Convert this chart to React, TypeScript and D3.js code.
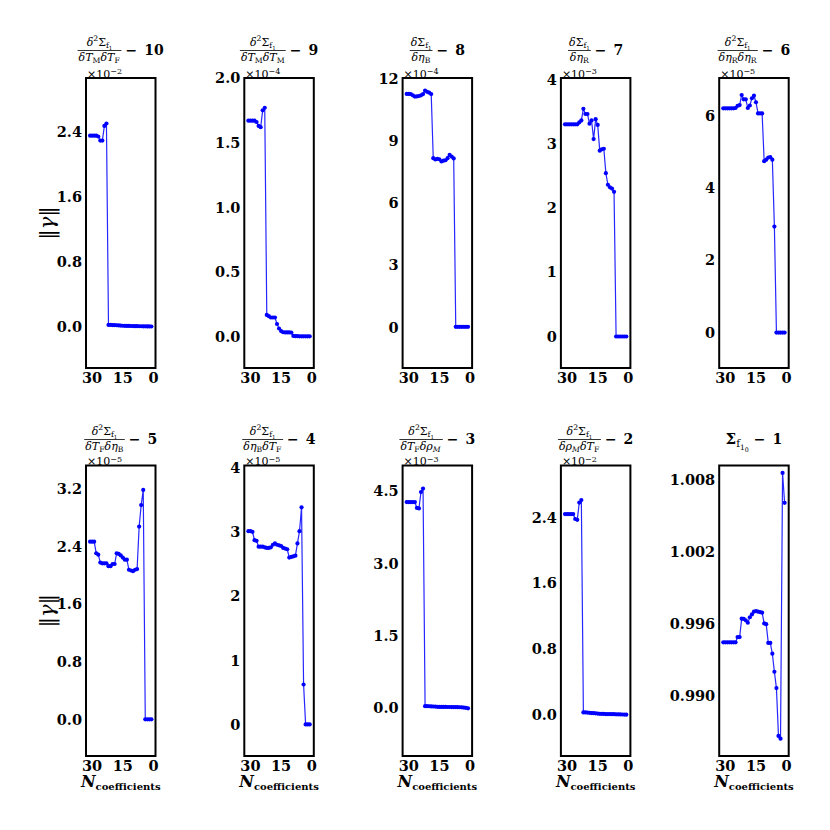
import React, { useEffect, useRef } from 'react';
import * as d3 from 'd3';

// ---------- data ----------
const nCoefficients = [31, 30, 29, 28, 27, 26, 25, 24, 23, 22, 21, 20, 19, 18, 17, 16, 15, 14, 13, 12, 11, 10, 9, 8, 7, 6, 5, 4, 3, 2, 1];
const xTicks = [30, 15, 0];

// d2Sigma / dTM dTF - 10   (x1e-2)
const gamma10 = [2.35, 2.35, 2.35, 2.35, 2.34, 2.29, 2.29, 2.47, 2.50, 0.020, 0.020, 0.019, 0.018, 0.016, 0.014, 0.012, 0.010, 0.009, 0.008, 0.008, 0.007, 0.006, 0.005, 0.005, 0.004, 0.004, 0.003, 0.003, 0.002, 0.002, 0.001];
// d2Sigma / dTM dTM - 9   (x1e-4)
const gamma9 = [1.67, 1.67, 1.67, 1.67, 1.66, 1.63, 1.62, 1.75, 1.77, 0.17, 0.16, 0.15, 0.15, 0.15, 0.10, 0.065, 0.045, 0.036, 0.035, 0.035, 0.035, 0.034, 0.008, 0.006, 0.006, 0.005, 0.005, 0.005, 0.005, 0.005, 0.005];
// dSigma / d etaB - 8   (x1e-4)
const gamma8 = [11.29, 11.29, 11.28, 11.22, 11.16, 11.17, 11.19, 11.22, 11.28, 11.45, 11.39, 11.35, 11.28, 8.18, 8.12, 8.15, 8.13, 8.02, 8.06, 8.08, 8.18, 8.34, 8.26, 8.17, 0.02, 0.02, 0.02, 0.02, 0.02, 0.02, 0.02];
// dSigma / d etaR - 7   (x1e-3)
const gamma7 = [3.30, 3.30, 3.30, 3.30, 3.30, 3.30, 3.30, 3.33, 3.36, 3.54, 3.46, 3.46, 3.31, 3.36, 3.07, 3.38, 3.29, 2.89, 2.91, 2.92, 2.54, 2.36, 2.32, 2.30, 2.25, 0.0, 0.0, 0.0, 0.0, 0.0, 0.0];
// d2Sigma / d etaR d etaR - 6   (x1e-5)
const gamma6 = [6.20, 6.20, 6.20, 6.20, 6.20, 6.20, 6.21, 6.27, 6.29, 6.57, 6.45, 6.45, 6.21, 6.28, 6.48, 6.55, 6.37, 6.06, 6.06, 6.06, 4.74, 4.78, 4.84, 4.85, 4.78, 2.93, 0.0, 0.0, 0.0, 0.0, 0.0];
// d2Sigma / dTF d etaB - 5   (x1e-5)
const gamma5 = [2.47, 2.47, 2.47, 2.31, 2.29, 2.18, 2.17, 2.17, 2.17, 2.13, 2.13, 2.16, 2.16, 2.31, 2.30, 2.28, 2.25, 2.22, 2.22, 2.08, 2.07, 2.06, 2.08, 2.09, 2.68, 2.98, 3.19, 0.0, 0.0, 0.0, 0.0];
// d2Sigma / d etaB dTF - 4   (x1e-5)
const gamma4 = [3.01, 3.01, 3.00, 2.87, 2.86, 2.77, 2.77, 2.77, 2.76, 2.75, 2.75, 2.76, 2.80, 2.82, 2.80, 2.79, 2.78, 2.75, 2.74, 2.73, 2.60, 2.61, 2.62, 2.63, 2.82, 3.01, 3.38, 0.63, 0.01, 0.01, 0.01];
// d2Sigma / dTF d rhoM - 3   (x1e-3)
const gamma3 = [4.27, 4.27, 4.27, 4.27, 4.27, 4.15, 4.14, 4.48, 4.55, 0.035, 0.035, 0.033, 0.030, 0.028, 0.025, 0.020, 0.018, 0.018, 0.018, 0.018, 0.017, 0.017, 0.016, 0.016, 0.015, 0.014, 0.012, 0.010, 0.005, 0.0, -0.01];
// d2Sigma / d rhoM dTF - 2   (x1e-2)
const gamma2 = [2.44, 2.44, 2.44, 2.44, 2.44, 2.38, 2.37, 2.58, 2.61, 0.030, 0.030, 0.028, 0.025, 0.022, 0.020, 0.018, 0.015, 0.013, 0.012, 0.011, 0.010, 0.010, 0.009, 0.008, 0.008, 0.007, 0.006, 0.005, 0.004, 0.003, 0.002];
// Sigma_f1_0 - 1
const gamma1 = [0.99447, 0.99447, 0.99447, 0.99447, 0.99447, 0.99447, 0.99447, 0.99491, 0.99491, 0.99644, 0.99642, 0.9963, 0.9961, 0.99656, 0.99679, 0.99702, 0.99708, 0.99702, 0.99699, 0.99694, 0.99604, 0.99598, 0.99442, 0.99442, 0.99352, 0.99202, 0.99066, 0.98667, 0.98644, 1.00858, 1.00609];

const ticks10 = [0.0, 0.8, 1.6, 2.4];
const ticks9 = [0.0, 0.5, 1.0, 1.5, 2.0];
const ticks8 = [0, 3, 6, 9, 12];
const ticks7 = [0, 1, 2, 3, 4];
const ticks6 = [0, 2, 4, 6];
const ticks5 = [0.0, 0.8, 1.6, 2.4, 3.2];
const ticks4 = [0, 1, 2, 3, 4];
const ticks3 = [0.0, 1.5, 3.0, 4.5];
const ticks2 = [0.0, 0.8, 1.6, 2.4];
const ticks1 = [0.990, 0.996, 1.002, 1.008];

const exponents = [-2, -4, -4, -3, -5, -5, -5, -3, -2, null];
const suffixes = ['10', '9', '8', '7', '6', '5', '4', '3', '2', '1'];

// ---------- layout ----------
const FONT = "'DejaVu Serif', 'Liberation Serif', serif";
const BLUE = '#0000ff';
const COL_LEFT = 86;
const COL_STEP = 158.3;
const BOX_W = 69.5;
const ROWS = [
  { top: 78, bottom: 368, bar: 50.5, tickBase: 383 },
  { top: 465.5, bottom: 756, bar: 439.5, tickBase: 770.5 },
];

type Seg = [string, string, number];
const numD2: Seg[] = [['δ', 'i', 0], ['2', 'r', -1], ['Σ', 'r', 0], ['f', 'r', 1], ['1', 'r', 2]];
const numD1: Seg[] = [['δ', 'i', 0], ['Σ', 'r', 0], ['f', 'r', 1], ['1', 'r', 2]];
const dT = (s: string): Seg[] => [['δ', 'i', 0], ['T', 'i', 0], [s, 'r', 1]];
const dEta = (s: string): Seg[] => [['δ', 'i', 0], ['η', 'i', 0], [s, 'r', 1]];
const dRho: Seg[] = [['δ', 'i', 0], ['ρ', 'i', 0], ['M', 'i', 1]];

const titles: ({ num: Seg[]; den: Seg[] } | { single: Seg[] })[] = [
  { num: numD2, den: [...dT('M'), ...dT('F')] },
  { num: numD2, den: [...dT('M'), ...dT('M')] },
  { num: numD1, den: dEta('B') },
  { num: numD1, den: dEta('R') },
  { num: numD2, den: [...dEta('R'), ...dEta('R')] },
  { num: numD2, den: [...dT('F'), ...dEta('B')] },
  { num: numD2, den: [...dEta('B'), ...dT('F')] },
  { num: numD2, den: [...dT('F'), ...dRho] },
  { num: numD2, den: [...dRho, ...dT('F')] },
  { single: [['Σ', 'b', 0], ['f', 'r', 1], ['1', 'r', 2], ['0', 'r', 3]] },
];

const panels = [
  { values: gamma10, ticks: ticks10, fmt: '.1f', domain: [-0.51, 3.06] },
  { values: gamma9, ticks: ticks9, fmt: '.1f', domain: [-0.24, 2.0] },
  { values: gamma8, ticks: ticks8, fmt: 'd', domain: [-1.97, 12.06] },
  { values: gamma7, ticks: ticks7, fmt: 'd', domain: [-0.49, 4.02] },
  { values: gamma6, ticks: ticks6, fmt: 'd', domain: [-0.98, 7.04] },
  { values: gamma5, ticks: ticks5, fmt: '.1f', domain: [-0.51, 3.53] },
  { values: gamma4, ticks: ticks4, fmt: 'd', domain: [-0.48, 4.03] },
  { values: gamma3, ticks: ticks3, fmt: '.1f', domain: [-1.0, 5.03] },
  { values: gamma2, ticks: ticks2, fmt: '.1f', domain: [-0.5, 3.03] },
  { values: gamma1, ticks: ticks1, fmt: '.3f', domain: [0.985, 1.0092] },
];

function addRich(sel: any, segs: Seg[], base: number) {
  const text = sel.append('text').attr('font-family', FONT).attr('fill', '#000');
  let cur = 0;
  for (const [t, st, lv] of segs) {
    const size = lv === 0 ? base : lv === -1 ? base * 0.7 : lv === 1 ? base * 0.7 : lv === 2 ? base * 0.5 : base * 0.42;
    const off = lv === 0 ? 0 : lv === -1 ? -0.42 * base : lv === 1 ? 0.2 * base : lv === 2 ? 0.4 * base : 0.55 * base;
    text
      .append('tspan')
      .text(t)
      .attr('dy', off - cur)
      .attr('font-size', size)
      .attr('font-style', st.includes('i') ? 'italic' : 'normal')
      .attr('font-weight', st.includes('b') ? 'bold' : 'normal');
    cur = off;
  }
  return text;
}

export default function App() {
  const ref = useRef<SVGSVGElement | null>(null);

  useEffect(() => {
    const svg = d3.select(ref.current);
    svg.selectAll('*').remove();

    const x0 = d3.scaleLinear().domain([33, -1]).range([0, BOX_W]);

    panels.forEach((p, i) => {
      const row = ROWS[Math.floor(i / 5)];
      const left = COL_LEFT + (i % 5) * COL_STEP;
      const x = x0.copy().range([left, left + BOX_W]);
      const y = d3.scaleLinear().domain(p.domain).range([row.bottom, row.top]);
      const g = svg.append('g');

      // line + markers
      const line = d3
        .line<number>()
        .x((_, k) => x(nCoefficients[k]))
        .y((d) => y(d));
      g.append('path')
        .datum(p.values)
        .attr('d', line)
        .attr('fill', 'none')
        .attr('stroke', BLUE)
        .attr('stroke-opacity', 0.85)
        .attr('stroke-width', 1.2);
      g.selectAll('circle.pt')
        .data(p.values)
        .enter()
        .append('circle')
        .attr('cx', (_, k) => x(nCoefficients[k]))
        .attr('cy', (d) => y(d))
        .attr('r', 2.1)
        .attr('fill', BLUE);

      // frame
      g.append('rect')
        .attr('x', left)
        .attr('y', row.top)
        .attr('width', BOX_W)
        .attr('height', row.bottom - row.top)
        .attr('fill', 'none')
        .attr('stroke', '#000')
        .attr('stroke-width', 2);

      // y tick labels
      const fmt = d3.format(p.fmt);
      g.selectAll('text.yt')
        .data(p.ticks)
        .enter()
        .append('text')
        .attr('x', left - 4)
        .attr('y', (d) => y(d))
        .attr('dy', '0.36em')
        .attr('text-anchor', 'end')
        .attr('font-family', FONT)
        .attr('font-weight', 'bold')
        .attr('font-size', 14.5)
        .text((d) => fmt(d));

      // x tick labels
      g.selectAll('text.xt')
        .data(xTicks)
        .enter()
        .append('text')
        .attr('x', (d) => x(d))
        .attr('y', row.tickBase)
        .attr('text-anchor', 'middle')
        .attr('font-family', FONT)
        .attr('font-weight', 'bold')
        .attr('font-size', 14.5)
        .text((d) => String(d));

      // offset text
      const e = exponents[i];
      if (e !== null) {
        const ot = g
          .append('text')
          .attr('x', left + 1)
          .attr('y', row.top - 0.5)
          .attr('font-family', FONT)
          .attr('font-size', 11);
        ot.append('tspan').text('×10');
        ot.append('tspan').text('\u2212' + String(-e)).attr('font-size', 8).attr('dy', -3.5);
      }

      // title
      const cx = left + BOX_W / 2;
      const tg = g.append('g');
      const t = titles[i] as any;
      let total = 0;
      if (t.num) {
        const num = addRich(tg, t.num, 11).attr('y', -5);
        const den = addRich(tg, t.den, 11).attr('y', 10.3);
        const wn = (num.node() as SVGTextElement).getBBox().width;
        const wd = (den.node() as SVGTextElement).getBBox().width;
        const W = Math.max(wn, wd) + 2;
        num.attr('x', (W - wn) / 2);
        den.attr('x', (W - wd) / 2);
        tg.append('line')
          .attr('x1', 0)
          .attr('x2', W)
          .attr('y1', 0)
          .attr('y2', 0)
          .attr('stroke', '#000')
          .attr('stroke-width', 0.8);
        const suf = tg
          .append('text')
          .attr('x', W + 4)
          .attr('y', 4.5)
          .attr('font-family', FONT)
          .attr('font-size', 14)
          .attr('font-weight', 'bold')
          .text('\u2212\u2002' + suffixes[i]);
        total = W + 4 + (suf.node() as SVGTextElement).getBBox().width;
      } else {
        const s = addRich(tg, t.single, 15).attr('y', 4.5);
        const ws = (s.node() as SVGTextElement).getBBox().width;
        const suf = tg
          .append('text')
          .attr('x', ws + 5)
          .attr('y', 4.5)
          .attr('font-family', FONT)
          .attr('font-size', 14)
          .attr('font-weight', 'bold')
          .text('\u2212\u2002' + suffixes[i]);
        total = ws + 5 + (suf.node() as SVGTextElement).getBBox().width;
      }
      tg.attr('transform', `translate(${cx - total / 2},${row.bar})`);

      // x label on bottom row
      if (i >= 5) {
        const xl = g
          .append('text')
          .attr('x', cx)
          .attr('y', 787)
          .attr('text-anchor', 'middle')
          .attr('font-family', FONT)
          .attr('font-weight', 'bold');
        xl.append('tspan').text('N').attr('font-style', 'italic').attr('font-size', 16);
        xl.append('tspan').text('coefficients').attr('font-size', 10).attr('dy', 3);
      }
    });

    // y labels
    ROWS.forEach((row) => {
      const cy = (row.top + row.bottom) / 2;
      const yl = svg
        .append('text')
        .attr('transform', `translate(47,${cy}) rotate(-90)`)
        .attr('text-anchor', 'middle')
        .attr('dominant-baseline', 'central')
        .attr('font-family', FONT)
        .attr('font-size', 21);
      yl.append('tspan').text('‖');
      yl.append('tspan').text('γ').attr('font-style', 'italic');
      yl.append('tspan').text('‖');
    });
  }, []);

  return (
    <svg
      ref={ref}
      width={830}
      height={830}
      style={{ position: 'absolute', left: 0, top: 0, background: '#fff' }}
    />
  );
}
